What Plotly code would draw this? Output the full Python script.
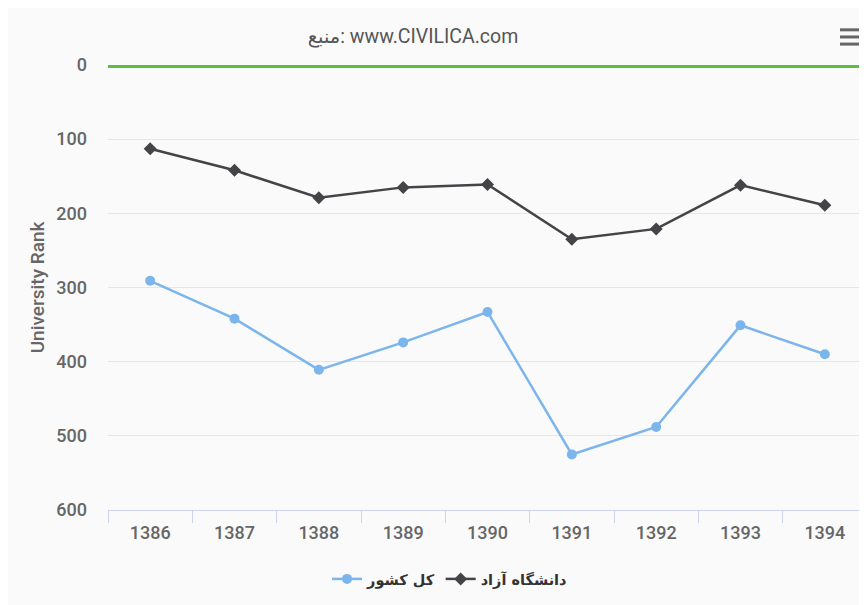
import plotly.graph_objects as go

# Years (Persian calendar) and university ranks
years = ["1386", "1387", "1388", "1389", "1390", "1391", "1392", "1393", "1394"]
rank_azad = [113, 142, 179, 165, 161, 235, 221, 162, 189]
rank_country = [291, 342, 411, 374, 333, 525, 488, 351, 390]

name_azad = "دانشگاه آزاد"
name_country = "کل کشور"
source_text = "منبع: www.CIVILICA.com"
y_ticks = [0, 100, 200, 300, 400, 500, 600]

BG = "#fafafa"
W, H = 859, 597

fig = go.Figure()

# blue series first so the legend reads like the original
fig.add_trace(go.Scatter(
    x=years, y=rank_country, name=name_country, mode="lines+markers",
    line=dict(color="#7cb5ec", width=2.5),
    marker=dict(symbol="circle", size=10, color="#7cb5ec"),
))
fig.add_trace(go.Scatter(
    x=years, y=rank_azad, name=name_azad, mode="lines+markers",
    line=dict(color="#434348", width=2.5),
    marker=dict(symbol="diamond", size=10, color="#434348"),
))

# green reference line at rank 0
fig.add_shape(type="line", xref="paper", yref="y", x0=0, x1=1, y0=0, y1=0,
              line=dict(color="#5abf3c", width=6), layer="above")

# hamburger menu icon
for yy in [1.079, 1.063, 1.047]:
    fig.add_shape(type="line", xref="paper", yref="paper",
                  x0=0.9644, x1=0.9908, y0=yy, y1=yy,
                  line=dict(color="#666666", width=3))

fig.update_layout(
    width=W, height=H,
    paper_bgcolor=BG, plot_bgcolor=BG,
    margin=dict(l=100, r=0, t=57, b=95),
    font=dict(family="Roboto, 'DejaVu Sans', sans-serif", color="#666666"),
    title=dict(text=source_text, x=405 / W, xanchor="center",
               y=1 - 28 / H, yanchor="middle", yref="container",
               font=dict(size=19.5, color="#555555", family="Roboto, 'DejaVu Sans', sans-serif")),
    legend=dict(orientation="h", x=0.45, xanchor="center", y=-0.155, yanchor="middle",
                font=dict(size=14.5, color="#333333", family="'DejaVu Sans', sans-serif", weight="bold"),
                bgcolor="rgba(0,0,0,0)", itemwidth=30),
    showlegend=True,
    hovermode="x",
)

fig.update_xaxes(
    type="category", showgrid=False, zeroline=False,
    showline=True, linecolor="#ccd6eb", linewidth=1,
    ticks="outside", tickson="boundaries", ticklen=12, tickcolor="#ccd6eb",
    ticklabelstandoff=6,
    tickfont=dict(size=18, color="#666666", weight=500),
    range=[-0.5, 8.5],
)

fig.update_yaxes(
    range=[600, 0], tickvals=y_ticks, showgrid=True, gridcolor="#e6e6e6", gridwidth=1,
    zeroline=False, showline=False,
    ticklabelstandoff=20,
    tickfont=dict(size=18, color="#666666", weight=500),
    title=dict(text="University Rank", standoff=6,
               font=dict(size=19, color="#666666", weight=500)),
)

fig.write_html("out.html")
